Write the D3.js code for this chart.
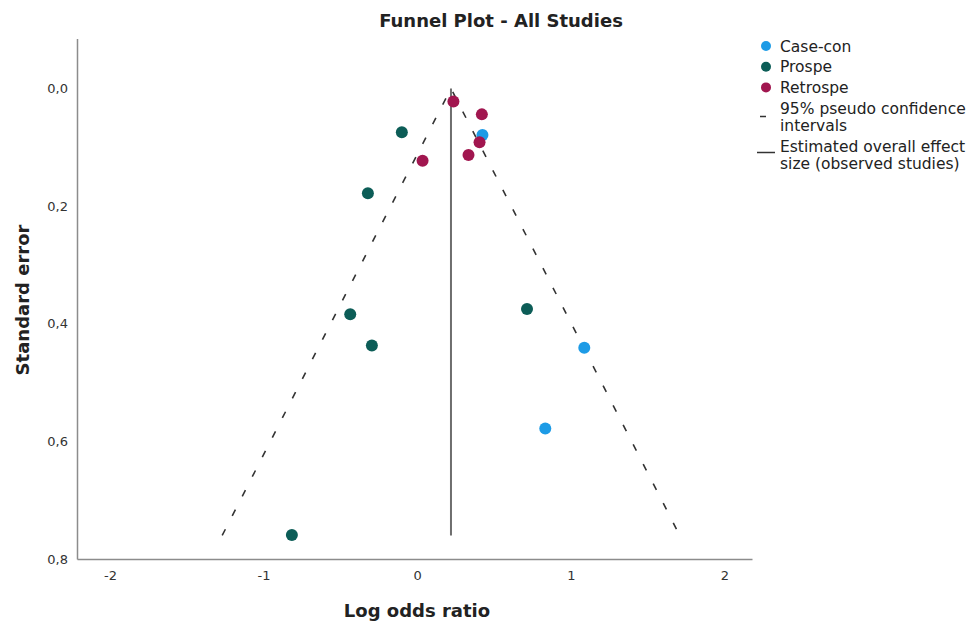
<!DOCTYPE html>
<html>
<head>
<meta charset="utf-8">
<script src="https://cdn.jsdelivr.net/npm/d3@7"></script>
<style>
  body { margin: 0; background: #fff; }
  text { font-family: "DejaVu Sans", sans-serif; }
</style>
</head>
<body>
<svg id="chart" width="972" height="622"></svg>
<script>
// study estimates: log odds ratio and standard error
const caseConLor = [0.425, 1.088, 0.834];
const caseConSe = [0.079, 0.441, 0.578];
const prospeLor = [-0.100, -0.321, -0.436, -0.295, 0.715, -0.816];
const prospeSe = [0.0745, 0.178, 0.384, 0.437, 0.375, 0.759];
const retrospeLor = [0.236, 0.421, 0.406, 0.334, 0.035];
const retrospeSe = [0.022, 0.044, 0.0915, 0.113, 0.123];

const overallEffect = 0.22;
const funnelMaxSe = 0.76;

const xTicks = [-2, -1, 0, 1, 2];
const yTicks = [0, 0.2, 0.4, 0.6, 0.8];

const groups = [
    { name: 'Case-con', color: '#1d9be6', lor: caseConLor, se: caseConSe },
    { name: 'Prospe', color: '#0c5d57', lor: prospeLor, se: prospeSe },
    { name: 'Retrospe', color: '#a1164f', lor: retrospeLor, se: retrospeSe }
];

const svg = d3.select('#chart');

const x = d3.scaleLinear().domain([-2.215, 2.18]).range([77, 752]);
const y = d3.scaleLinear().domain([-0.085, 0.8]).range([38.5, 559]);

// axes (no tick marks, grey domain lines)
const xAxis = svg.append('g')
    .attr('transform', `translate(0,${y(0.8)})`)
    .call(d3.axisBottom(x).tickValues(xTicks).tickSize(0).tickPadding(12)
        .tickFormat(d => String(d)));
const yAxis = svg.append('g')
    .attr('transform', `translate(${x.range()[0]},0)`)
    .call(d3.axisLeft(y).tickValues(yTicks).tickSize(0).tickPadding(9)
        .tickFormat(d => d3.format('.1f')(d).replace('.', ',')));

[xAxis, yAxis].forEach(g => {
    g.select('.domain').attr('stroke', '#8c8c8c').attr('stroke-width', 1.5);
    g.selectAll('text').attr('font-size', 13).attr('fill', '#333');
});

// funnel: 95% pseudo confidence limits
const seEnd = funnelMaxSe;
const funnelLine = d3.line().x(d => x(d[0])).y(d => y(d[1]));
svg.append('path')
    .attr('d', funnelLine([
        [overallEffect - 1.96 * seEnd, seEnd],
        [overallEffect, 0],
        [overallEffect + 1.96 * seEnd, seEnd]
    ]))
    .attr('fill', 'none')
    .attr('stroke', '#333')
    .attr('stroke-width', 1.6)
    .attr('stroke-dasharray', '7,15');

// overall effect
svg.append('line')
    .attr('x1', x(overallEffect)).attr('x2', x(overallEffect))
    .attr('y1', y(0)).attr('y2', y(seEnd))
    .attr('stroke', '#6e6e6e')
    .attr('stroke-width', 2);

// studies
groups.forEach(g => {
    svg.append('g').selectAll('circle')
        .data(g.lor.map((v, i) => ({ lor: v, se: g.se[i] })))
        .enter()
        .append('circle')
        .attr('cx', d => x(d.lor))
        .attr('cy', d => y(d.se))
        .attr('r', 6)
        .attr('fill', g.color);
});

// titles
svg.append('text')
    .attr('x', 501).attr('y', 27)
    .attr('text-anchor', 'middle')
    .attr('font-size', 18).attr('font-weight', 'bold').attr('fill', '#222')
    .text('Funnel Plot - All Studies');

svg.append('text')
    .attr('x', 417).attr('y', 617)
    .attr('text-anchor', 'middle')
    .attr('font-size', 18).attr('font-weight', 'bold').attr('fill', '#222')
    .text('Log odds ratio');

svg.append('text')
    .attr('transform', 'translate(29,300) rotate(-90)')
    .attr('text-anchor', 'middle')
    .attr('font-size', 18).attr('font-weight', 'bold').attr('fill', '#222')
    .text('Standard error');

// legend
const legend = svg.append('g').attr('transform', 'translate(766,0)');
const legendFont = 15.5;
groups.forEach((g, i) => {
    const ly = 46 + i * 20.7;
    legend.append('circle').attr('cx', 0).attr('cy', ly).attr('r', 5).attr('fill', g.color);
    legend.append('text').attr('x', 14).attr('y', ly + 5.5)
        .attr('font-size', legendFont).attr('fill', '#222').text(g.name);
});
legend.append('line')
    .attr('x1', -6).attr('x2', 0).attr('y1', 116.5).attr('y2', 116.5)
    .attr('stroke', '#333').attr('stroke-width', 1.5);
legend.append('text').attr('x', 14).attr('y', 113.5).attr('font-size', legendFont).attr('fill', '#222')
    .text('95% pseudo confidence');
legend.append('text').attr('x', 14).attr('y', 131).attr('font-size', legendFont).attr('fill', '#222')
    .text('intervals');
legend.append('line')
    .attr('x1', -9).attr('x2', 9).attr('y1', 152.5).attr('y2', 152.5)
    .attr('stroke', '#333').attr('stroke-width', 1.5);
legend.append('text').attr('x', 14).attr('y', 151.5).attr('font-size', legendFont).attr('fill', '#222')
    .text('Estimated overall effect');
legend.append('text').attr('x', 14).attr('y', 168.5).attr('font-size', legendFont).attr('fill', '#222')
    .text('size (observed studies)');
</script>
</body>
</html>
